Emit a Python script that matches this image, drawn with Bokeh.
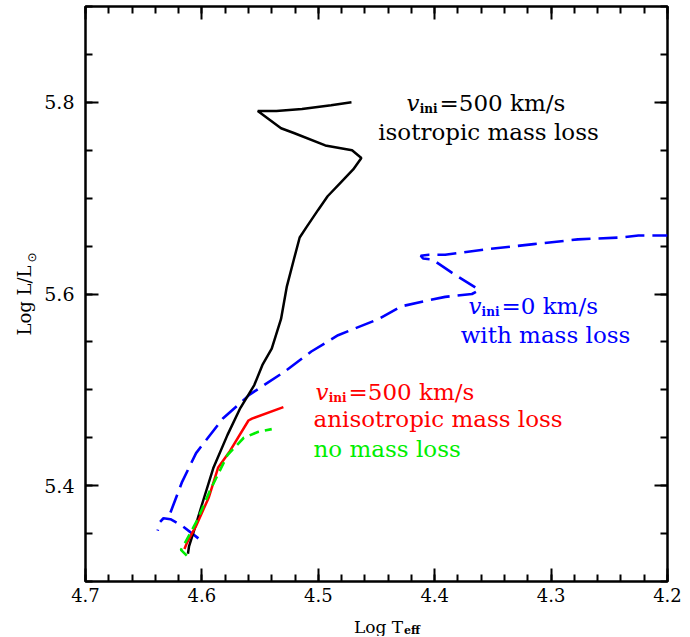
import numpy as np
from bokeh.plotting import figure
from bokeh.layouts import row, column
from bokeh.models import Range1d, LinearAxis, FixedTicker, CustomJSTickFormatter, Label
from bokeh.embed import file_html
from bokeh.resources import INLINE

# ---- data ----
iso_teff = [4.612, 4.611, 4.605, 4.599, 4.590, 4.578, 4.567, 4.555, 4.548, 4.540,
            4.532, 4.527, 4.521, 4.516, 4.510, 4.500, 4.492, 4.481, 4.470, 4.463,
            4.471, 4.494, 4.521, 4.532, 4.552, 4.536, 4.514, 4.489, 4.4715]
iso_lum = [5.329, 5.337, 5.360, 5.384, 5.419, 5.453, 5.481, 5.505, 5.526, 5.543,
           5.574, 5.608, 5.636, 5.659, 5.670, 5.688, 5.702, 5.716, 5.730, 5.742,
           5.750, 5.755, 5.768, 5.773, 5.791, 5.791, 5.793, 5.797, 5.800]

aniso_teff = [4.615, 4.613, 4.605, 4.594, 4.586, 4.576, 4.560, 4.557, 4.530]
aniso_lum = [5.334, 5.340, 5.358, 5.388, 5.419, 5.436, 5.468, 5.470, 5.482]

noml_teff = [4.613, 4.618, 4.616, 4.604, 4.593, 4.578, 4.564, 4.552, 4.540]
noml_lum = [5.327, 5.333, 5.337, 5.364, 5.395, 5.432, 5.450, 5.456, 5.459]

v0_teff = [4.603, 4.618, 4.627, 4.633, 4.636, 4.638, np.nan,
           4.627, 4.617, 4.605, 4.582, 4.559, 4.529, 4.506, 4.483, 4.448, 4.429,
           4.407, 4.391, 4.368, 4.362, 4.364, 4.385, 4.402, 4.410, 4.412, 4.405,
           4.391, 4.353, 4.315, 4.277, 4.240, 4.225, 4.200]
v0_lum = [5.345, 5.359, 5.365, 5.366, 5.362, 5.353, np.nan,
          5.372, 5.404, 5.434, 5.470, 5.495, 5.519, 5.540, 5.557, 5.574, 5.587,
          5.593, 5.597, 5.600, 5.604, 5.606, 5.622, 5.636, 5.637, 5.640, 5.641,
          5.641, 5.647, 5.652, 5.657, 5.659, 5.661, 5.661]

x_major = [4.7, 4.6, 4.5, 4.4, 4.3, 4.2]
x_minor = [round(4.2 + 0.02 * i, 2) for i in range(26)]
y_major = [5.4, 5.6, 5.8]
y_minor = [round(5.3 + 0.05 * i, 2) for i in range(13)]

FONT = "DejaVu Serif"
LEFT_W = 40          # strip holding the y title
P_W, P_H = 647, 609  # main plot
TOTAL_H = 636
BOT_H = TOTAL_H - P_H

p = figure(width=P_W, height=P_H, output_backend="svg", toolbar_location=None,
           x_range=Range1d(4.7, 4.2), y_range=Range1d(5.3, 5.9),
           min_border_left=45, min_border_right=20, min_border_top=6, min_border_bottom=28,
           x_axis_location="below", y_axis_location="left")
p.grid.visible = False
p.outline_line_color = "black"
p.outline_line_width = 2.5
p.background_fill_color = "white"
p.border_fill_color = "white"

fmt = CustomJSTickFormatter(code="return tick.toFixed(1);")
blank = CustomJSTickFormatter(code="return '';")

def style_axis(ax, ticker, labels=True, size="19px", standoff=11):
    ax.ticker = ticker
    ax.axis_line_color = None
    ax.major_tick_in = 13
    ax.major_tick_out = 0
    ax.minor_tick_in = 7
    ax.minor_tick_out = 0
    ax.major_tick_line_width = 2
    ax.minor_tick_line_width = 2
    ax.major_tick_line_color = "black"
    ax.minor_tick_line_color = "black"
    if labels:
        ax.formatter = fmt
        ax.major_label_text_font = FONT
        ax.major_label_text_font_size = size
        ax.major_label_text_color = "black"
        ax.major_label_standoff = standoff
    else:
        ax.formatter = blank
        ax.major_label_standoff = 0

style_axis(p.xaxis[0], FixedTicker(ticks=x_major, minor_ticks=x_minor), size="18px", standoff=6)
style_axis(p.yaxis[0], FixedTicker(ticks=y_major, minor_ticks=y_minor))
top = LinearAxis()
style_axis(top, FixedTicker(ticks=x_major, minor_ticks=x_minor), labels=False)
right = LinearAxis()
style_axis(right, FixedTicker(ticks=y_major, minor_ticks=y_minor), labels=False)
p.add_layout(top, "above")
p.add_layout(right, "right")

# ---- tracks ----
p.line(v0_teff, v0_lum, line_color="#0000ff", line_width=2.6, line_dash="19 8")
p.line(iso_teff, iso_lum, line_color="black", line_width=2.5)
p.line(aniso_teff, aniso_lum, line_color="#ff0000", line_width=2.5)
p.line(noml_teff, noml_lum, line_color="#00ee00", line_width=2.6, line_dash="10 6")

# ---- annotations ----
def lab(fig, x, y, text, color, size, style="normal", align="left", xoff=0, yoff=0,
        angle=0.0, baseline="alphabetic", font=FONT):
    fig.add_layout(Label(x=x, y=y, text=text, text_color=color, text_font=font,
                         text_font_size=size, text_font_style=style, text_align=align,
                         text_baseline=baseline, x_offset=xoff, y_offset=yoff, angle=angle))

def vini(x, y, rest, color):
    lab(p, x, y, "v", color, "23px", style="italic", align="right", xoff=-19)
    lab(p, x, y, "ini", color, "12px", style="bold", align="right", xoff=-1, yoff=-6)
    lab(p, x, y, rest, color, "23px", align="left", xoff=1)

vini(4.3967, 5.799, "=500 km/s", "black")
lab(p, 4.3538, 5.769, "isotropic mass loss", "black", "23px", align="center")

vini(4.3435, 5.588, "=0 km/s", "#0000ff")
lab(p, 4.3048, 5.557, "with mass loss", "#0000ff", "23px", align="center")

vini(4.4749, 5.4975, "=500 km/s", "#ff0000")
lab(p, 4.5041, 5.4694, "anisotropic mass loss", "#ff0000", "23px")
lab(p, 4.5041, 5.4381, "no mass loss", "#00ee00", "23px")

# ---- title strips (pixel ranges, y up from the strip bottom) ----
def strip(w, h):
    f = figure(width=w, height=h, output_backend="svg", toolbar_location=None,
               x_range=Range1d(0, w), y_range=Range1d(0, h), min_border=0,
               x_axis_location=None, y_axis_location=None)
    f.grid.visible = False
    f.outline_line_color = None
    f.background_fill_color = "white"
    f.border_fill_color = "white"
    return f

ys = strip(LEFT_W, TOTAL_H)
lab(ys, 24, TOTAL_H - 300, "Log L/L", "black", "18px", align="center", angle=np.pi / 2,
    baseline="middle")
lab(ys, 31, TOTAL_H - 257, "\u2299", "black", "12px", align="center", angle=np.pi / 2,
    baseline="middle", font="DejaVu Sans")

xs = strip(P_W, BOT_H)
lab(xs, 393 - LEFT_W, TOTAL_H - 626, "Log T", "black", "17px", align="right")
lab(xs, 394 - LEFT_W, TOTAL_H - 626, "eff", "black", "11px", style="bold", yoff=-4)

layout = row(ys, column(p, xs, spacing=0), spacing=0)

open("out.html", "w").write(file_html(layout, INLINE))
